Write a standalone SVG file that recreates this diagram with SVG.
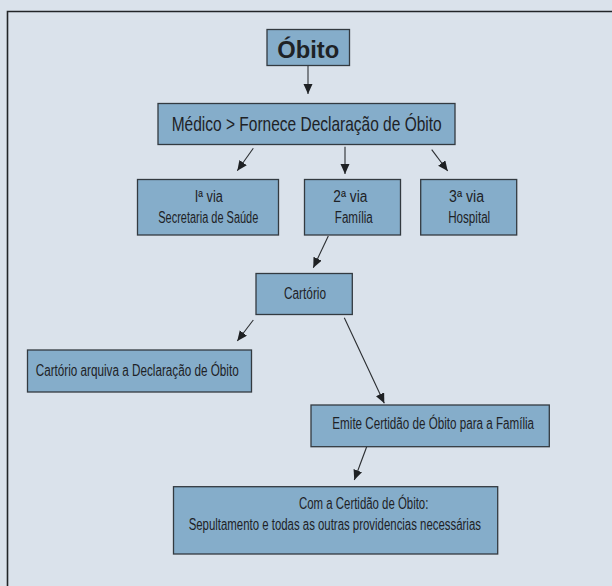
<svg xmlns="http://www.w3.org/2000/svg" width="612" height="586" viewBox="0 0 612 586">
<style>
.box{fill:#85adca;stroke:#333a40;stroke-width:1.3}
.t{font-family:"Liberation Sans","DejaVu Sans",sans-serif;font-size:16px;fill:#1e2226;text-anchor:middle}
.c{stroke:#2a2d30;stroke-width:1.1;fill:none;marker-end:url(#ah)}
</style>
<defs>
<marker id="ah" markerUnits="userSpaceOnUse" markerWidth="12" markerHeight="10" refX="10" refY="4.5" orient="auto">
<path d="M0,0 L10,4.5 L0,9 Z" fill="#1e2124"/>
</marker>
</defs>
<rect width="612" height="586" fill="#dae2eb"/>
<path d="M7.5,586 V11.5 H612" fill="none" stroke="#222528" stroke-width="1.6"/>
<g id="connectors">
<path class="c" d="M308,66 V94" style="stroke:#555a5e;stroke-width:1.4"/>
<path class="c" d="M253.3,148.3 L237.3,170.7"/>
<path class="c" d="M345,146.7 V174"/>
<path class="c" d="M431.7,149.7 L447.7,171"/>
<path class="c" d="M328.3,236 L313.3,267.7"/>
<path class="c" d="M253.3,320 L237.3,341"/>
<path class="c" d="M344.3,317.7 L384.3,403.3"/>
<path class="c" d="M366.7,446.7 L354.3,480"/>
</g>
<g id="obito">
<rect class="box" x="267" y="29.5" width="82.5" height="36"/>
<text class="t" x="308.3" y="58" style="font-size:24px;font-weight:bold" textLength="62" lengthAdjust="spacingAndGlyphs">Óbito</text>
</g>
<g id="medico">
<rect class="box" x="158" y="103.5" width="297" height="41"/>
<text class="t" x="306.7" y="130.5" style="font-size:21px" textLength="270" lengthAdjust="spacingAndGlyphs">Médico &gt; Fornece Declaração de Óbito</text>
</g>
<g id="via1">
<rect class="box" x="137.5" y="179.5" width="141" height="55.5"/>
<text class="t" x="208.8" y="201.7" textLength="28" lengthAdjust="spacingAndGlyphs">Iª via</text>
<text class="t" x="208.3" y="223.3" textLength="100" lengthAdjust="spacingAndGlyphs">Secretaria de Saúde</text>
</g>
<g id="via2">
<rect class="box" x="304.5" y="179.5" width="96" height="55.5"/>
<text class="t" x="350.3" y="201.7" textLength="34" lengthAdjust="spacingAndGlyphs">2ª via</text>
<text class="t" x="353.8" y="223.3" textLength="38" lengthAdjust="spacingAndGlyphs">Família</text>
</g>
<g id="via3">
<rect class="box" x="420.7" y="179.5" width="96" height="55.5"/>
<text class="t" x="466.6" y="201.7" textLength="35" lengthAdjust="spacingAndGlyphs">3ª via</text>
<text class="t" x="469.2" y="223.3" textLength="42" lengthAdjust="spacingAndGlyphs">Hospital</text>
</g>
<g id="cartorio">
<rect class="box" x="256" y="273.5" width="96.3" height="41"/>
<text class="t" x="305" y="298.5" textLength="42" lengthAdjust="spacingAndGlyphs">Cartório</text>
</g>
<g id="arquiva">
<rect class="box" x="27.5" y="350" width="224" height="42"/>
<text class="t" x="137.2" y="376" textLength="203" lengthAdjust="spacingAndGlyphs">Cartório arquiva a Declaração de Óbito</text>
</g>
<g id="emite">
<rect class="box" x="311" y="405" width="238.3" height="41.7"/>
<text class="t" x="433.2" y="428.5" textLength="201.7" lengthAdjust="spacingAndGlyphs">Emite Certidão de Óbito para a Família</text>
</g>
<g id="sepultamento">
<rect class="box" x="173.5" y="486.7" width="324.2" height="67.3"/>
<text class="t" x="363.7" y="509" textLength="129.3" lengthAdjust="spacingAndGlyphs">Com a Certidão de Óbito:</text>
<text class="t" x="334.8" y="530" textLength="292.3" lengthAdjust="spacingAndGlyphs">Sepultamento e todas as outras providencias necessárias</text>
</g>
</svg>
